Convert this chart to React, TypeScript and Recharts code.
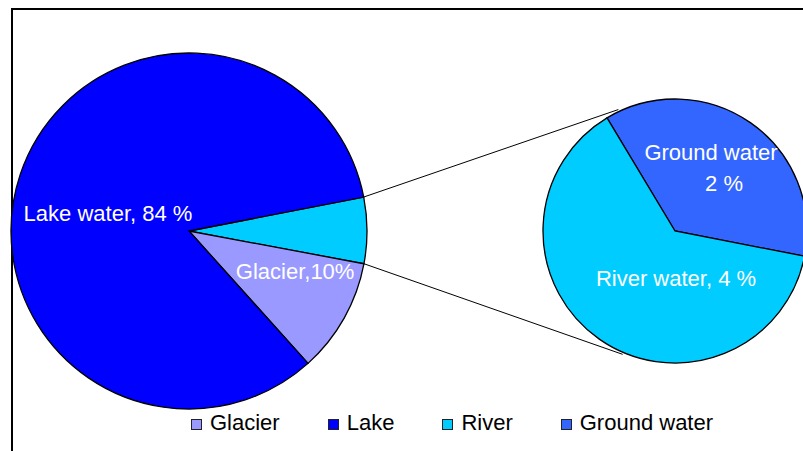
import React from 'react';
import { PieChart, Pie, Cell, Legend } from 'recharts';

// left pie: the "other" slice is split out into the right pie
const mainNames = ['Other', 'Glacier', 'Lake'];
const mainValues = [6, 10.4, 83.6];
const mainLabels = ['', 'Glacier,10%', 'Lake water, 84 %'];

const splitNames = ['Ground water', 'River'];
const splitValues = [2.2, 3.8];
const splitLabels = [['Ground water', '2 %'], ['River water, 4 %']];

const legendNames = ['Glacier', 'Lake', 'River', 'Ground water'];

const COLORS: Record<string, string> = {
    Other: '#00CCFF',
    Glacier: '#9999FF',
    Lake: '#0000FF',
    River: '#00CCFF',
    'Ground water': '#3366FF',
};

const FONT = '"Liberation Sans", Arial, sans-serif';
const RAD = Math.PI / 180;

const MAIN = { cx: 189, cy: 231, r: 178, start: 11 };
const SPLIT = { cx: 675, cy: 231, r: 132, start: 121 };

// label placement tweaks: fraction of radius and angle shift from slice middle
const labelPos: Record<string, { f: number; da: number }> = {
    Glacier: { f: 0.637, da: 8.7 },
    Lake: { f: 0.466, da: 6.1 },
    'Ground water': { f: 0.556, da: 5.6 },
    River: { f: 0.356, da: 36.2 },
};

const mainData = mainNames.map((name, i) => ({ name, value: mainValues[i] }));
const splitData = splitNames.map((name, i) => ({ name, value: splitValues[i] }));

const polar = (cx: number, cy: number, r: number, a: number) => ({
    x: cx + r * Math.cos(-a * RAD),
    y: cy + r * Math.sin(-a * RAD),
});

const makeLabel = (names: string[], lines: (string | string[])[]) => (props: any) => {
    const { cx, cy, midAngle, outerRadius, index } = props;
    const name = names[index];
    const text = lines[index];
    if (!text || !labelPos[name]) return null;
    const { f, da } = labelPos[name];
    const p = polar(cx, cy, outerRadius * f, midAngle + da);
    const rows = Array.isArray(text) ? text : [text];
    const lh = 31;
    const y0 = p.y - ((rows.length - 1) * lh) / 2;
    return (
        <text fill="#fff" fontSize={22} fontFamily={FONT} textAnchor="middle" dominantBaseline="central">
            {rows.map((t, k) => (
                <tspan key={k} x={p.x + (k > 0 ? 13 : 0)} y={y0 + k * lh}>{t}</tspan>
            ))}
        </text>
    );
};

const LegendContent = () => (
    <div style={{ display: 'flex', gap: 48, fontFamily: FONT, fontSize: 22, color: '#000', alignItems: 'center' }}>
        {legendNames.map(n => (
            <div key={n} style={{ display: 'flex', alignItems: 'center' }}>
                <span style={{ width: 9, height: 9, background: COLORS[n], border: '1px solid #222', marginRight: 8, marginTop: 3 }} />
                <span>{n}</span>
            </div>
        ))}
    </div>
);

const App: React.FC = () => {
    const otherSpan = (360 * mainValues[0]) / mainValues.reduce((a, b) => a + b, 0);
    const a1 = polar(MAIN.cx, MAIN.cy, MAIN.r, MAIN.start);
    const a2 = polar(MAIN.cx, MAIN.cy, MAIN.r, MAIN.start - otherSpan);
    const b1 = polar(SPLIT.cx, SPLIT.cy, SPLIT.r + 2, 115);
    const b2 = polar(SPLIT.cx, SPLIT.cy, SPLIT.r + 2, -113);

    return (
        <div style={{ position: 'absolute', left: 0, top: 0, width: 803, height: 451, overflow: 'hidden', background: '#fff' }}>
            <div style={{ position: 'absolute', left: 11, top: 8, width: 900, height: 500, border: '2px solid #000' }} />
            <div style={{ position: 'absolute', left: 0, top: 0 }}>
                <PieChart width={803} height={451} margin={{ top: 0, right: 0, bottom: 0, left: 0 }}>
                    <Pie
                        data={mainData}
                        dataKey="value"
                        nameKey="name"
                        cx={MAIN.cx}
                        cy={MAIN.cy}
                        outerRadius={MAIN.r}
                        startAngle={MAIN.start}
                        endAngle={MAIN.start - 360}
                        stroke="#000"
                        strokeWidth={1.3}
                        label={makeLabel(mainNames, mainLabels)}
                        labelLine={false}
                        isAnimationActive={false}
                    >
                        {mainData.map(d => <Cell key={d.name} fill={COLORS[d.name]} />)}
                    </Pie>
                    <Pie
                        data={splitData}
                        dataKey="value"
                        nameKey="name"
                        cx={SPLIT.cx}
                        cy={SPLIT.cy}
                        outerRadius={SPLIT.r}
                        startAngle={SPLIT.start}
                        endAngle={SPLIT.start - 360}
                        stroke="#000"
                        strokeWidth={1.3}
                        label={makeLabel(splitNames, splitLabels)}
                        labelLine={false}
                        isAnimationActive={false}
                    >
                        {splitData.map(d => <Cell key={d.name} fill={COLORS[d.name]} />)}
                    </Pie>
                    <Legend content={<LegendContent />} wrapperStyle={{ position: 'absolute', left: 191, top: 410, width: 'auto' }} />
                </PieChart>
            </div>
            <svg width={803} height={451} style={{ position: 'absolute', left: 0, top: 0, pointerEvents: 'none' }}>
                <line x1={a1.x} y1={a1.y} x2={b1.x} y2={b1.y} stroke="#000" strokeWidth={1} />
                <line x1={a2.x} y1={a2.y} x2={b2.x} y2={b2.y} stroke="#000" strokeWidth={1} />
            </svg>
        </div>
    );
};

export default App;
